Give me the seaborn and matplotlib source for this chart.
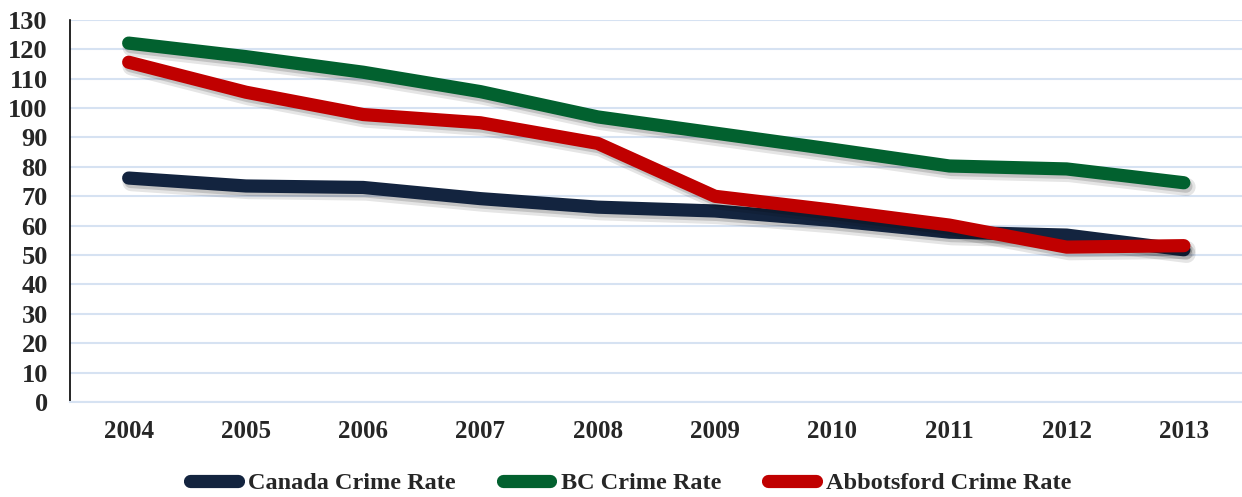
import matplotlib
matplotlib.use("Agg")
import matplotlib.pyplot as plt
import matplotlib.patheffects as pe
import seaborn as sns
import numpy as np
import pandas as pd

years = ['2004', '2005', '2006', '2007', '2008', '2009', '2010', '2011', '2012', '2013']
canada = [76.2, 73.5, 73.0, 69.2, 66.3, 65.0, 61.8, 57.8, 56.8, 51.8]
bc = [122.1, 117.5, 112.2, 105.6, 97.0, 91.5, 86.0, 80.3, 79.3, 74.6]
abbotsford = [115.6, 105.4, 97.8, 95.0, 88.0, 70.0, 65.3, 60.2, 52.7, 53.2]

series_names = ['Canada Crime Rate', 'BC Crime Rate', 'Abbotsford Crime Rate']
colors = ['#13243f', '#02612f', '#c00000']

df = pd.DataFrame({
    'pos': np.tile(np.arange(len(years)), 3),
    'rate': canada + bc + abbotsford,
    'series': np.repeat(series_names, len(years)),
})

sns.set_style('white')
plt.rcParams['font.family'] = ['Liberation Serif', 'DejaVu Serif']
plt.rcParams['font.weight'] = 'bold'

fig = plt.figure(figsize=(12.42, 4.97), dpi=100)
ax = fig.add_axes([0.0564, 0.191, 0.944, 0.769])

# soft drop shadow under each line
shadow = [pe.SimpleLineShadow(offset=(2, -3), shadow_color='black', alpha=0.1, linewidth=13),
          pe.SimpleLineShadow(offset=(1.5, -2.5), shadow_color='black', alpha=0.15),
          pe.Normal()]

sns.lineplot(data=df, x='pos', y='rate', hue='series', hue_order=series_names,
             palette=colors, linewidth=9.5, ax=ax, legend=True)
for line in ax.lines:
    line.set_solid_capstyle('round')
    line.set_solid_joinstyle('round')
    line.set_path_effects(shadow)

ax.set_xlim(-0.5, len(years) - 0.5)
ax.set_ylim(0, 130)
ax.set_yticks(np.arange(0, 131, 10))
ax.set_xticks(np.arange(len(years)))
ax.set_xticklabels(years)
ax.set_xticks(np.arange(len(years) + 1) - 0.5, minor=True)
ax.tick_params(axis='x', which='major', length=0, pad=13, labelsize=18)
ax.tick_params(axis='x', which='minor', length=8, color='#d6e2f2', width=1.5)
ax.tick_params(axis='y', length=0, pad=16, labelsize=19)
for lab in ax.get_xticklabels() + ax.get_yticklabels():
    lab.set_fontweight('bold')

ax.grid(axis='y', color='#d6e2f2', linewidth=1.5)
ax.set_axisbelow(True)
for s in ['top', 'right']:
    ax.spines[s].set_visible(False)
ax.spines['left'].set_color('black')
ax.spines['left'].set_linewidth(1.2)
ax.spines['bottom'].set_color('#d6e2f2')
ax.spines['bottom'].set_linewidth(1.5)
ax.set_xlabel('')
ax.set_ylabel('')

handles, labels = ax.get_legend_handles_labels()
ax.get_legend().remove()
for h in handles:
    h.set_solid_capstyle('round')
    h.set_linewidth(9.5)
    h.set_path_effects([])
leg = fig.legend(handles, labels, loc='center', bbox_to_anchor=(0.508, 0.028),
                 ncol=3, frameon=False, handlelength=1.95, handletextpad=0.42,
                 columnspacing=1.95, prop={'size': 17.5, 'weight': 'bold'})

fig.savefig('out.png', dpi=100)
